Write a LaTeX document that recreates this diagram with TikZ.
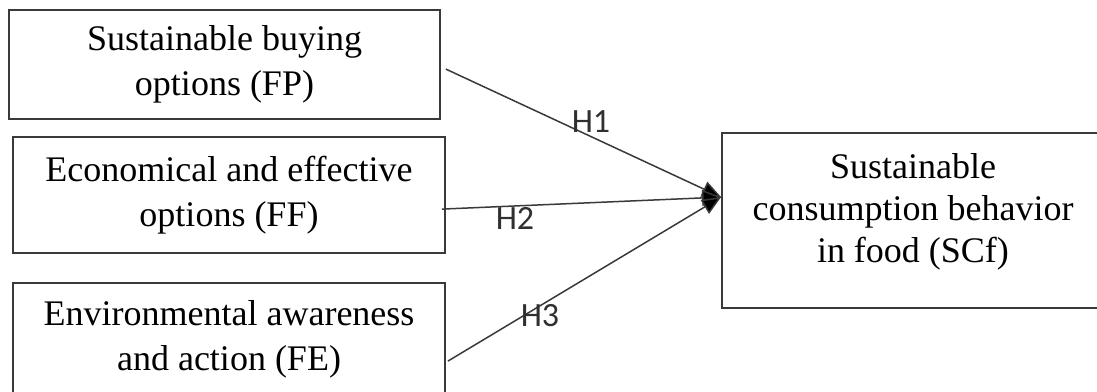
\documentclass[tikz,border=0pt]{standalone}
\usepackage{fontspec}
\setmainfont{Liberation Serif}
\newfontfamily\labelfont{Carlito}
\usetikzlibrary{arrows.meta,calc}
\definecolor{edge}{HTML}{3A3A3A}
\definecolor{lbl}{HTML}{303030}
\begin{document}
\begin{tikzpicture}[x=1pt,y=-1pt,
  box/.style={draw=edge,line width=1.8pt,fill=white,align=center,inner sep=0pt,
    font=\fontsize{36}{45}\selectfont},
  link/.style={draw=edge,line width=1.5pt,-{Triangle[length=19pt,width=16pt,fill=black]}},
  hlabel/.style={font=\labelfont\fontsize{34}{36}\selectfont,text=lbl,inner sep=0pt}]
\clip (0,0) rectangle (1097,391);
\fill[white] (0,0) rectangle (1097,391);
\node[box,minimum width=431pt,minimum height=109pt] (b1) at (224.5,64.5) {Sustainable buying\\options (FP)};
\node[box,minimum width=432pt,minimum height=116pt] (b2) at (229,195) {Economical and effective\\options (FF)};
\node[box,minimum width=432pt,minimum height=112pt] (b3) at (229,339) {Environmental awareness\\and action (FE)};
\node[box,minimum width=384pt,minimum height=175pt] (b4) at (914,220.5) {};
\node[align=center,inner sep=0pt,font=\fontsize{36}{42}\selectfont] (t4) at (913,212) {Sustainable\\consumption behavior\\in food (SCf)};
\coordinate (s1) at ($(b1.north east)+(5,60)$);
\coordinate (s2) at ($(b2.north east)+(-4,73)$);
\coordinate (s3) at ($(b3.north east)+(2,79)$);
\coordinate (t) at ($(b4.north west)+(0,65)$);
\draw[link] (s1) -- (t);
\draw[link] (s2) -- (t);
\draw[link] (s3) -- (t);
\node[hlabel] (h1) at (591,122) {H1};
\node[hlabel] (h2) at (515,218) {H2};
\node[hlabel] (h3) at (540,316) {H3};
\end{tikzpicture}
\end{document}
